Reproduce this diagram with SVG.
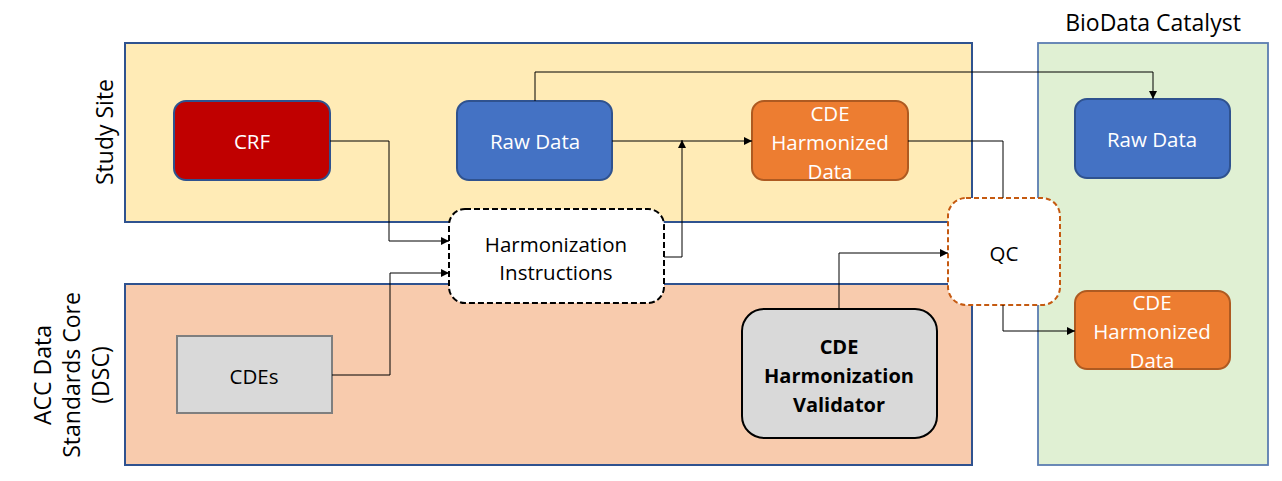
<svg xmlns="http://www.w3.org/2000/svg" width="1282" height="481" viewBox="0 0 1282 481">
<defs>
<marker id="arr" markerWidth="8" markerHeight="8" refX="8" refY="4" orient="auto" markerUnits="userSpaceOnUse">
<path d="M0,0 L8,4 L0,8 Z" fill="#000"/>
</marker>
<style>
text{font-family:"Open Sans","Noto Sans",sans-serif;font-size:20.5px;text-anchor:middle;dominant-baseline:central}
.w{fill:#fff}
.k{fill:#000}
.b{font-weight:bold;font-size:20px}
.lbl{font-size:23px}
.conn path{fill:none;stroke:#000;stroke-width:1}
</style>
</defs>
<rect width="1282" height="481" fill="#fff"/>
<g id="study-site">
<rect x="125" y="43" width="847" height="179" fill="#FFEBB6" stroke="#2F528F" stroke-width="2"/>
<text class="k lbl" transform="translate(104,132) rotate(-90)">Study Site</text>
</g>
<g id="dsc">
<rect x="125" y="284" width="847" height="181" fill="#F8CBAD" stroke="#2F528F" stroke-width="2"/>
<text class="k lbl" transform="translate(71,375) rotate(-90)"><tspan x="0" y="-29">ACC Data</tspan><tspan x="0" y="0">Standards Core</tspan><tspan x="0" y="29">(DSC)</tspan></text>
</g>
<g id="biodata-catalyst">
<rect x="1038" y="43" width="230" height="422" fill="#E0F0D3" stroke="#5B7DB1" stroke-width="1.8"/>
<text class="k lbl" x="1153" y="22">BioData Catalyst</text>
</g>
<g id="crf">
<rect x="174" y="101" width="156" height="79" rx="12" fill="#C00000" stroke="#2F528F" stroke-width="2"/>
<text class="w" x="252" y="141">CRF</text>
</g>
<g id="raw-data-study">
<rect x="457" y="101" width="155" height="79" rx="12" fill="#4472C4" stroke="#2F528F" stroke-width="2"/>
<text class="w" x="535" y="141">Raw Data</text>
</g>
<g id="cde-harmonized-study">
<rect x="752" y="101" width="156" height="79" rx="12" fill="#ED7D31" stroke="#AE5A21" stroke-width="2"/>
<text class="w" x="830" y="113">CDE</text>
<text class="w" x="830" y="142">Harmonized</text>
<text class="w" x="830" y="171">Data</text>
</g>
<g id="raw-data-bdc">
<rect x="1075" y="99" width="155" height="79" rx="12" fill="#4472C4" stroke="#2F528F" stroke-width="2"/>
<text class="w" x="1152" y="139">Raw Data</text>
</g>
<g id="cde-harmonized-bdc">
<rect x="1075" y="291" width="155" height="78" rx="12" fill="#ED7D31" stroke="#AE5A21" stroke-width="2"/>
<text class="w" x="1152" y="302">CDE</text>
<text class="w" x="1152" y="331">Harmonized</text>
<text class="w" x="1152" y="360">Data</text>
</g>
<g id="harmonization-instructions">
<rect x="449" y="209" width="215" height="94" rx="16" fill="#fff" stroke="#000" stroke-width="2" stroke-dasharray="6,3"/>
<text class="k" x="556" y="244">Harmonization</text>
<text class="k" x="556" y="272">Instructions</text>
</g>
<g id="qc">
<rect x="948" y="198" width="112" height="107" rx="18" fill="#fff" stroke="#C55A11" stroke-width="2" stroke-dasharray="5,3"/>
<text class="k" x="1004" y="253">QC</text>
</g>
<g id="cdes">
<rect x="177" y="336" width="155" height="77" fill="#D9D9D9" stroke="#7F7F7F" stroke-width="2"/>
<text class="k" x="254" y="376">CDEs</text>
</g>
<g id="validator">
<rect x="742" y="309" width="195" height="129" rx="22" fill="#D9D9D9" stroke="#000" stroke-width="2"/>
<text class="k b" x="839" y="346">CDE</text>
<text class="k b" x="839" y="375">Harmonization</text>
<text class="k b" x="839" y="404">Validator</text>
</g>
<g id="connectors" class="conn">
<path d="M330,141 H389 V241 H449" marker-end="url(#arr)"/>
<path d="M332,375 H390 V273 H449" marker-end="url(#arr)"/>
<path d="M612,141 H752" marker-end="url(#arr)"/>
<path d="M664,257 H682 V140" marker-end="url(#arr)"/>
<path d="M535,101 V72 H1153 V99" marker-end="url(#arr)"/>
<path d="M908,141 H1003 V198"/>
<path d="M839,309 V253 H948" marker-end="url(#arr)"/>
<path d="M1003,305 V331 H1075" marker-end="url(#arr)"/>
</g>
</svg>
